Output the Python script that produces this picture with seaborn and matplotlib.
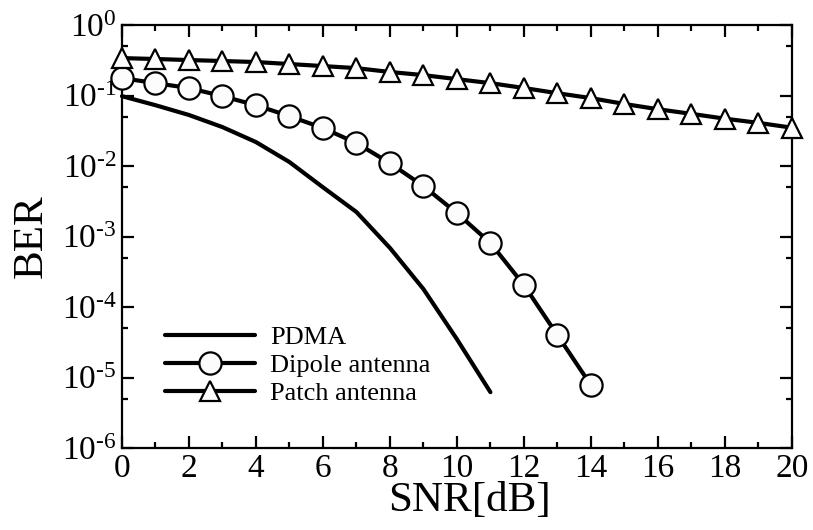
import matplotlib
matplotlib.use("Agg")
import matplotlib.pyplot as plt
import matplotlib.ticker as mticker
import numpy as np
import pandas as pd
import seaborn as sns

# ---- data ----
snr_pdma = [0, 1, 2, 3, 4, 5, 6, 7, 8, 9, 10, 11]
ber_pdma = [0.098, 0.073, 0.053, 0.0357, 0.0219, 0.0114, 0.0050, 0.00223,
            0.00069, 0.00018, 3.5e-5, 6.2e-6]

snr_dipole = [0, 1, 2, 3, 4, 5, 6, 7, 8, 9, 10, 11, 12, 13, 14]
ber_dipole = [0.177, 0.150, 0.128, 0.098, 0.073, 0.051, 0.0346, 0.0212,
              0.0110, 0.0052, 0.00215, 0.00081, 0.000205, 4.0e-5, 7.8e-6]

snr_patch = list(range(0, 21))
ber_patch = [0.340, 0.330, 0.319, 0.309, 0.299, 0.280, 0.262, 0.245, 0.216,
             0.195, 0.171, 0.150, 0.128, 0.108, 0.092, 0.076, 0.064, 0.055,
             0.047, 0.041, 0.035]

labels = ["PDMA", "Dipole antenna", "Patch antenna"]
x_ticks = [0, 2, 4, 6, 8, 10, 12, 14, 16, 18, 20]
y_exponents = [0, -1, -2, -3, -4, -5, -6]

sns.set_theme(style="ticks")
plt.rcParams["font.family"] = ["Liberation Serif", "DejaVu Serif"]
plt.rcParams["mathtext.fontset"] = "custom"
plt.rcParams["mathtext.rm"] = "Liberation Serif"
plt.rcParams["mathtext.it"] = "Liberation Serif:italic"
plt.rcParams["mathtext.bf"] = "Liberation Serif:bold"
plt.rcParams["axes.unicode_minus"] = False
for key in ["text.color", "axes.labelcolor", "xtick.color", "ytick.color",
            "xtick.labelcolor", "ytick.labelcolor", "axes.edgecolor"]:
    plt.rcParams[key] = "black"

fig = plt.figure(figsize=(8.13, 5.30), dpi=100)
ax = fig.add_axes([0.150, 0.1547, 0.824, 0.798])

df_pdma = pd.DataFrame({"SNR": snr_pdma, "BER": ber_pdma})
df_dip = pd.DataFrame({"SNR": snr_dipole, "BER": ber_dipole})
df_pat = pd.DataFrame({"SNR": snr_patch, "BER": ber_patch})

lw = 3.0
sns.lineplot(data=df_pdma, x="SNR", y="BER", ax=ax, color="black", linewidth=lw,
             label=labels[0], clip_on=False, zorder=3)
sns.lineplot(data=df_dip, x="SNR", y="BER", ax=ax, color="black", linewidth=lw,
             marker="o", markersize=16, markerfacecolor="#fcfcfc",
             markeredgecolor="black", markeredgewidth=1.6,
             label=labels[1], clip_on=False, zorder=4)
sns.lineplot(data=df_pat, x="SNR", y="BER", ax=ax, color="black", linewidth=lw,
             marker="^", markersize=15, markerfacecolor="#fcfcfc",
             markeredgecolor="black", markeredgewidth=1.6,
             label=labels[2], clip_on=False, zorder=4)

ax.set_yscale("log")
ax.set_xlim(0, 20)
ax.set_ylim(1e-6, 1)
ax.xaxis.set_major_locator(mticker.FixedLocator(x_ticks))
ax.xaxis.set_minor_locator(mticker.MultipleLocator(1))

y_major = [10.0 ** k for k in y_exponents]
y_labels = []
for k in y_exponents:
    if k == 0:
        y_labels.append(r"10$^{0}$")
    else:
        y_labels.append(r"10$^{\text{-}%d}$" % (-k))
ax.yaxis.set_major_locator(mticker.FixedLocator(y_major))
ax.yaxis.set_major_formatter(mticker.FixedFormatter(y_labels))
ax.yaxis.set_minor_locator(mticker.FixedLocator([5 * 10.0 ** k for k in range(-6, 0)]))
ax.yaxis.set_minor_formatter(mticker.NullFormatter())

for sp in ax.spines.values():
    sp.set_linewidth(1.6)
    sp.set_color("black")
    sp.set_visible(True)

ax.tick_params(which="both", direction="in", top=True, right=True,
               width=1.6, colors="black")
ax.tick_params(which="major", length=8.5, labelsize=24, pad=4)
ax.tick_params(which="minor", length=4.5)

ax.set_xlabel("SNR[dB]", fontsize=31)
ax.xaxis.set_label_coords(0.519, -0.08)
ax.set_ylabel("BER", fontsize=31, labelpad=8)

leg = ax.legend(loc="center left", bbox_to_anchor=(0.064, 0.195),
                frameon=False, fontsize=19, handlelength=3.4,
                handletextpad=0.6, labelspacing=0.17, borderpad=0,
                borderaxespad=0, numpoints=1)

fig.savefig("out.png", dpi=100)
